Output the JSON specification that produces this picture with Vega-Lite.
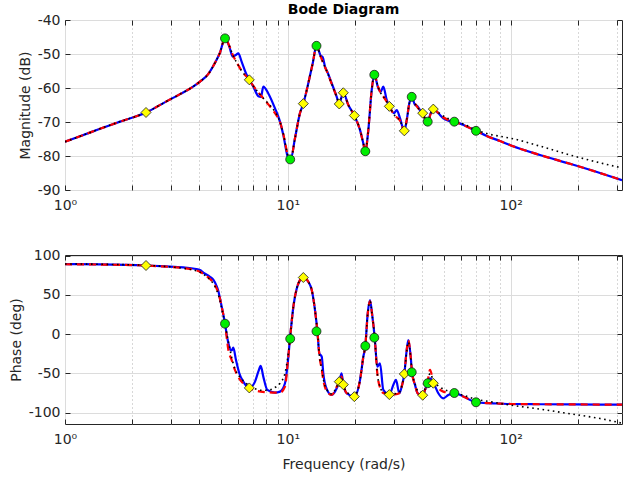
{
  "$schema": "https://vega.github.io/schema/vega-lite/v6.json",
  "padding": {"left": 8, "top": 2, "right": 5, "bottom": 5},
  "background": "white",
  "config": {
    "font": "DejaVu Sans",
    "view": {"stroke": "#262626", "strokeWidth": 1},
    "axis": {
      "domain": false, "grid": true, "gridColor": "#dcdcdc", "gridWidth": 1,
      "ticks": true, "tickColor": "#262626", "tickSize": -5, "labelOverlap": false,
      "labelFont": "DejaVu Sans", "labelFontSize": 14, "labelColor": "#262626",
      "titleFont": "DejaVu Sans", "titleFontSize": 14, "titleFontWeight": "normal", "titleColor": "#262626",
      "titlePadding": 5
    },
    "axisX": {"labelPadding": 13, "labelFlush": false, "titlePadding": 11},
    "axisY": {"labelPadding": 10, "labelExpr": "replace(datum.label, '−', '-')"}
  },
  "datasets": {
    "magB": [
      {"f":1,"v":-75.8},{"f":1.168,"v":-74.2},{"f":1.436,"v":-72.0},{"f":1.765,"v":-69.9},{"f":2.31,"v":-67.2},{"f":2.84,"v":-64.0},{"f":3.283,"v":-61.8},{"f":3.715,"v":-59.8},{"f":4.036,"v":-58.1},{"f":4.383,"v":-56.0},{"f":4.713,"v":-52.6},{"f":4.962,"v":-49.6},{"f":5.226,"v":-45.4},{"f":5.463,"v":-47.8},{"f":5.657,"v":-50.8},{"f":5.836,"v":-50.3},{"f":5.995,"v":-49.8},{"f":6.21,"v":-52.3},{"f":6.493,"v":-55.7},{"f":6.718,"v":-57.6},{"f":7.002,"v":-59.6},{"f":7.373,"v":-62.4},{"f":7.581,"v":-62.6},{"f":7.762,"v":-59.6},{"f":8.175,"v":-61.6},{"f":8.761,"v":-66.0},{"f":9.226,"v":-69.9},{"f":9.546,"v":-73.8},{"f":10.05,"v":-80.7},{"f":10.28,"v":-81.2},{"f":10.77,"v":-74.8},{"f":11.34,"v":-67.4},{"f":11.74,"v":-64.6},{"f":12.36,"v":-58.6},{"f":12.94,"v":-52.7},{"f":13.45,"v":-47.6},{"f":14.05,"v":-50.5},{"f":14.34,"v":-50.9},{"f":14.69,"v":-53.7},{"f":15.04,"v":-55.2},{"f":15.74,"v":-58.6},{"f":16.58,"v":-62.6},{"f":17.02,"v":-64.7},{"f":17.38,"v":-62.9},{"f":17.75,"v":-61.4},{"f":18.69,"v":-65.0},{"f":19.89,"v":-68.1},{"f":21.1,"v":-72.4},{"f":21.83,"v":-76.3},{"f":22.28,"v":-78.7},{"f":22.98,"v":-72.4},{"f":23.8,"v":-60.6},{"f":24.45,"v":-56.2},{"f":25.48,"v":-60.1},{"f":26.12,"v":-61.1},{"f":26.83,"v":-59.6},{"f":27.79,"v":-63.5},{"f":28.55,"v":-65.4},{"f":29.97,"v":-67.4},{"f":30.82,"v":-66.5},{"f":31.89,"v":-68.9},{"f":33.34,"v":-72.6},{"f":34.18,"v":-69.4},{"f":35.11,"v":-64.5},{"f":35.99,"v":-62.6},{"f":37.24,"v":-65.0},{"f":38.13,"v":-65.3},{"f":39.21,"v":-66.5},{"f":40.32,"v":-67.4},{"f":41.29,"v":-69.2},{"f":42.46,"v":-69.9},{"f":43.79,"v":-67.4},{"f":44.98,"v":-66.2},{"f":47.37,"v":-67.4},{"f":49.88,"v":-68.9},{"f":52.53,"v":-69.6},{"f":55.89,"v":-69.9},{"f":62.42,"v":-71.1},{"f":69.94,"v":-72.6},{"f":78.11,"v":-74.1},{"f":89.62,"v":-75.6},{"f":100.4,"v":-76.9},{"f":135.5,"v":-79.7},{"f":184.8,"v":-82.3},{"f":251.9,"v":-85.0},{"f":316.2,"v":-87.1}
    ],
    "magR": [
      {"f":1,"v":-75.8},{"f":1.168,"v":-74.2},{"f":1.436,"v":-72.0},{"f":1.765,"v":-69.9},{"f":2.31,"v":-67.2},{"f":2.84,"v":-64.0},{"f":3.283,"v":-61.8},{"f":3.715,"v":-59.8},{"f":4.036,"v":-58.1},{"f":4.383,"v":-56.0},{"f":4.713,"v":-52.6},{"f":4.962,"v":-49.6},{"f":5.226,"v":-45.4},{"f":5.463,"v":-47.6},{"f":5.657,"v":-50.2},{"f":5.995,"v":-53.3},{"f":6.21,"v":-55.0},{"f":6.493,"v":-56.5},{"f":6.718,"v":-57.6},{"f":7.002,"v":-59.4},{"f":7.373,"v":-61.3},{"f":7.762,"v":-63.0},{"f":8.175,"v":-64.8},{"f":8.761,"v":-67.4},{"f":9.226,"v":-70.0},{"f":9.546,"v":-73.5},{"f":10.05,"v":-80.2},{"f":10.28,"v":-81.2},{"f":10.77,"v":-74.8},{"f":11.34,"v":-67.4},{"f":11.74,"v":-64.6},{"f":12.36,"v":-58.6},{"f":12.94,"v":-52.7},{"f":13.45,"v":-47.6},{"f":14.05,"v":-50.8},{"f":14.69,"v":-53.9},{"f":15.04,"v":-55.4},{"f":15.74,"v":-58.8},{"f":16.58,"v":-62.6},{"f":17.02,"v":-64.7},{"f":17.38,"v":-62.9},{"f":17.75,"v":-61.4},{"f":18.69,"v":-65.0},{"f":19.89,"v":-68.1},{"f":21.1,"v":-72.4},{"f":21.83,"v":-76.3},{"f":22.28,"v":-78.7},{"f":22.98,"v":-72.4},{"f":23.8,"v":-60.6},{"f":24.45,"v":-56.2},{"f":25.48,"v":-59.8},{"f":26.12,"v":-61.5},{"f":26.83,"v":-62.5},{"f":27.79,"v":-64.0},{"f":28.55,"v":-65.4},{"f":29.97,"v":-67.8},{"f":30.82,"v":-68.6},{"f":31.89,"v":-69.6},{"f":33.34,"v":-72.6},{"f":34.18,"v":-69.4},{"f":35.11,"v":-64.5},{"f":35.99,"v":-62.6},{"f":37.24,"v":-64.6},{"f":38.13,"v":-65.6},{"f":39.21,"v":-66.6},{"f":40.32,"v":-67.4},{"f":41.29,"v":-69.0},{"f":42.46,"v":-69.9},{"f":43.79,"v":-67.6},{"f":44.98,"v":-66.2},{"f":47.37,"v":-67.3},{"f":49.88,"v":-68.6},{"f":52.53,"v":-69.4},{"f":55.89,"v":-69.9},{"f":62.42,"v":-71.1},{"f":69.94,"v":-72.6},{"f":78.11,"v":-74.1},{"f":89.62,"v":-75.6},{"f":100.4,"v":-76.9},{"f":135.5,"v":-79.7},{"f":184.8,"v":-82.3},{"f":251.9,"v":-85.0},{"f":316.2,"v":-87.1}
    ],
    "magK": [
      {"f":1,"v":-75.8},{"f":1.168,"v":-74.2},{"f":1.436,"v":-72.0},{"f":1.765,"v":-69.9},{"f":2.31,"v":-67.2},{"f":2.84,"v":-64.0},{"f":3.283,"v":-61.8},{"f":3.715,"v":-59.8},{"f":4.036,"v":-58.1},{"f":4.383,"v":-56.0},{"f":4.713,"v":-52.6},{"f":4.962,"v":-49.6},{"f":5.226,"v":-45.4},{"f":5.463,"v":-47.6},{"f":5.657,"v":-50.2},{"f":5.995,"v":-53.3},{"f":6.21,"v":-55.0},{"f":6.493,"v":-56.5},{"f":6.718,"v":-57.6},{"f":7.002,"v":-59.4},{"f":7.373,"v":-61.3},{"f":7.762,"v":-63.0},{"f":8.175,"v":-64.6},{"f":8.761,"v":-67.0},{"f":9.226,"v":-70.0},{"f":9.546,"v":-73.5},{"f":10.05,"v":-80.2},{"f":10.28,"v":-81.2},{"f":10.77,"v":-74.8},{"f":11.34,"v":-67.4},{"f":11.74,"v":-64.6},{"f":12.36,"v":-58.6},{"f":12.94,"v":-52.7},{"f":13.45,"v":-47.6},{"f":14.05,"v":-50.8},{"f":14.69,"v":-53.9},{"f":15.04,"v":-55.4},{"f":15.74,"v":-58.8},{"f":16.58,"v":-62.6},{"f":17.02,"v":-64.7},{"f":17.38,"v":-62.9},{"f":17.75,"v":-61.4},{"f":18.69,"v":-65.0},{"f":19.89,"v":-68.1},{"f":21.1,"v":-72.4},{"f":21.83,"v":-76.3},{"f":22.28,"v":-78.7},{"f":22.98,"v":-72.4},{"f":23.8,"v":-60.6},{"f":24.45,"v":-56.2},{"f":25.48,"v":-59.8},{"f":26.12,"v":-61.5},{"f":26.83,"v":-62.5},{"f":27.79,"v":-64.0},{"f":28.55,"v":-65.4},{"f":29.97,"v":-67.8},{"f":30.82,"v":-68.6},{"f":31.89,"v":-69.6},{"f":33.34,"v":-72.6},{"f":34.18,"v":-69.4},{"f":35.11,"v":-64.5},{"f":35.99,"v":-62.6},{"f":37.24,"v":-64.6},{"f":38.13,"v":-65.6},{"f":39.21,"v":-66.6},{"f":40.32,"v":-67.4},{"f":41.29,"v":-69.0},{"f":42.46,"v":-69.9},{"f":43.79,"v":-67.6},{"f":44.98,"v":-66.4},{"f":47.37,"v":-67.2},{"f":49.88,"v":-68.2},{"f":52.53,"v":-69.0},{"f":55.89,"v":-69.6},{"f":62.42,"v":-70.8},{"f":69.94,"v":-72.3},{"f":78.11,"v":-73.4},{"f":89.62,"v":-74.2},{"f":100.4,"v":-74.8},{"f":135.5,"v":-77.1},{"f":184.8,"v":-79.7},{"f":251.9,"v":-82.0},{"f":316.2,"v":-83.5}
    ],
    "phB": [
      {"f":1,"v":89.4},{"f":1.436,"v":89.0},{"f":2.31,"v":87.6},{"f":2.84,"v":86.5},{"f":3.396,"v":85.2},{"f":3.75,"v":83.8},{"f":4.036,"v":81.8},{"f":4.176,"v":78.5},{"f":4.474,"v":73.2},{"f":4.63,"v":69.5},{"f":4.797,"v":61},{"f":4.877,"v":55},{"f":4.95,"v":47},{"f":5.05,"v":35},{"f":5.226,"v":13.4},{"f":5.353,"v":-5.2},{"f":5.463,"v":-16},{"f":5.53,"v":-20},{"f":5.601,"v":-20.5},{"f":5.693,"v":-17.2},{"f":5.854,"v":-32.9},{"f":6.057,"v":-49.8},{"f":6.313,"v":-60.5},{"f":6.718,"v":-68.5},{"f":7.125,"v":-60.5},{"f":7.373,"v":-47.8},{"f":7.558,"v":-40.5},{"f":7.762,"v":-54.1},{"f":8.091,"v":-71.1},{"f":8.761,"v":-74.5},{"f":9.226,"v":-73.2},{"f":9.714,"v":-62.5},{"f":9.99,"v":-37.1},{"f":10.23,"v":-5.7},{"f":10.59,"v":35},{"f":10.96,"v":58},{"f":11.34,"v":69},{"f":11.74,"v":72.5},{"f":12.36,"v":66.9},{"f":12.81,"v":56.3},{"f":13.24,"v":31},{"f":13.58,"v":3.7},{"f":13.85,"v":-24.3},{"f":14.2,"v":-28.7},{"f":14.43,"v":-49.8},{"f":14.91,"v":-69},{"f":15.74,"v":-77.5},{"f":16.58,"v":-69},{"f":17.02,"v":-60.5},{"f":17.43,"v":-49.8},{"f":17.75,"v":-64.3},{"f":18.38,"v":-75.3},{"f":19.89,"v":-79.6},{"f":21.1,"v":-58.3},{"f":21.83,"v":-28.7},{"f":22.28,"v":-15},{"f":22.84,"v":26.6},{"f":23.38,"v":43.6},{"f":23.97,"v":22.3},{"f":24.55,"v":-4.4},{"f":25.22,"v":-41.4},{"f":25.93,"v":-37.1},{"f":26.83,"v":-71.1},{"f":28.55,"v":-77},{"f":29.75,"v":-64.7},{"f":30.6,"v":-58.3},{"f":31.65,"v":-75.3},{"f":32.5,"v":-66},{"f":33.34,"v":-50.7},{"f":34.18,"v":-20.1},{"f":34.75,"v":-7.4},{"f":35.61,"v":-28.7},{"f":36.1,"v":-48.5},{"f":37.24,"v":-64.7},{"f":38.28,"v":-75.3},{"f":40.32,"v":-77.8},{"f":41.29,"v":-71.1},{"f":42.27,"v":-62.5},{"f":43.48,"v":-56.2},{"f":45.16,"v":-62.5},{"f":47.37,"v":-75.3},{"f":49.88,"v":-81.7},{"f":52.53,"v":-77.5},{"f":55.89,"v":-75},{"f":62.42,"v":-80.5},{"f":69.94,"v":-86.8},{"f":80.85,"v":-88},{"f":89.62,"v":-88.5},{"f":100.4,"v":-89},{"f":135.5,"v":-89.3},{"f":251.9,"v":-89.7},{"f":316.2,"v":-89.8}
    ],
    "phR": [
      {"f":1,"v":89.2},{"f":1.436,"v":88.8},{"f":2.31,"v":87.5},{"f":2.84,"v":86.2},{"f":3.396,"v":84.3},{"f":3.75,"v":82.5},{"f":4.036,"v":79.6},{"f":4.176,"v":77},{"f":4.474,"v":70.5},{"f":4.63,"v":66},{"f":4.797,"v":58},{"f":4.877,"v":53},{"f":4.95,"v":46},{"f":5.05,"v":35},{"f":5.226,"v":13.4},{"f":5.41,"v":-20},{"f":5.6,"v":-33},{"f":5.79,"v":-45.6},{"f":6.11,"v":-58.3},{"f":6.53,"v":-66},{"f":6.718,"v":-68.5},{"f":7.125,"v":-71.5},{"f":7.558,"v":-73.2},{"f":8.091,"v":-74},{"f":8.761,"v":-74.5},{"f":9.226,"v":-74.5},{"f":9.714,"v":-66.9},{"f":9.99,"v":-37},{"f":10.23,"v":-5.7},{"f":10.59,"v":35},{"f":10.96,"v":58},{"f":11.34,"v":69},{"f":11.74,"v":72.5},{"f":12.36,"v":66.9},{"f":12.81,"v":56.3},{"f":13.24,"v":31},{"f":13.58,"v":3.7},{"f":13.85,"v":-26},{"f":14.2,"v":-45},{"f":14.43,"v":-58.3},{"f":14.91,"v":-72},{"f":15.74,"v":-77.5},{"f":16.58,"v":-67},{"f":17.02,"v":-60.5},{"f":17.43,"v":-54.1},{"f":17.75,"v":-64.3},{"f":18.38,"v":-75.3},{"f":19.89,"v":-79.6},{"f":21.1,"v":-58.3},{"f":21.83,"v":-28.7},{"f":22.28,"v":-15},{"f":22.84,"v":26},{"f":23.38,"v":42},{"f":23.97,"v":22},{"f":24.55,"v":-4.4},{"f":25.22,"v":-50},{"f":25.93,"v":-68},{"f":26.83,"v":-75},{"f":28.55,"v":-77},{"f":29.75,"v":-77},{"f":30.6,"v":-76.5},{"f":31.65,"v":-75},{"f":32.5,"v":-66},{"f":33.34,"v":-50.7},{"f":34.18,"v":-20},{"f":34.75,"v":-8},{"f":35.61,"v":-28.7},{"f":36.1,"v":-48.5},{"f":37.24,"v":-64.7},{"f":38.28,"v":-75.3},{"f":40.32,"v":-77.8},{"f":41.29,"v":-71.1},{"f":42.27,"v":-62.5},{"f":43.48,"v":-45.6},{"f":45.16,"v":-62.5},{"f":47.37,"v":-69},{"f":49.88,"v":-73.2},{"f":52.53,"v":-74.5},{"f":55.89,"v":-75},{"f":62.42,"v":-80.5},{"f":69.94,"v":-86.8},{"f":80.85,"v":-88},{"f":89.62,"v":-88.5},{"f":100.4,"v":-89},{"f":135.5,"v":-89.3},{"f":251.9,"v":-89.7},{"f":316.2,"v":-89.8}
    ],
    "phK": [
      {"f":1,"v":89.6},{"f":1.436,"v":89.2},{"f":2.31,"v":87.8},{"f":2.84,"v":86.3},{"f":3.396,"v":84.0},{"f":3.75,"v":82.0},{"f":4.036,"v":79.0},{"f":4.176,"v":76.5},{"f":4.474,"v":69.5},{"f":4.63,"v":64.5},{"f":4.797,"v":56},{"f":4.95,"v":44},{"f":5.05,"v":33},{"f":5.226,"v":13.4},{"f":5.353,"v":-3},{"f":5.463,"v":-15},{"f":5.601,"v":-30},{"f":5.79,"v":-44},{"f":6.11,"v":-55},{"f":6.53,"v":-63},{"f":6.718,"v":-66},{"f":7.125,"v":-69.5},{"f":7.558,"v":-71.5},{"f":8.091,"v":-71.5},{"f":8.761,"v":-68},{"f":9.226,"v":-62.5},{"f":9.714,"v":-49.8},{"f":9.99,"v":-30},{"f":10.23,"v":-5.7},{"f":10.59,"v":35},{"f":10.96,"v":58},{"f":11.34,"v":69},{"f":11.74,"v":72.5},{"f":12.36,"v":66.9},{"f":12.81,"v":56.3},{"f":13.24,"v":31},{"f":13.58,"v":3.7},{"f":13.85,"v":-26},{"f":14.2,"v":-45},{"f":14.43,"v":-57},{"f":14.91,"v":-70},{"f":15.74,"v":-76},{"f":16.58,"v":-67},{"f":17.02,"v":-60.5},{"f":17.43,"v":-56},{"f":17.75,"v":-64.3},{"f":18.38,"v":-74},{"f":19.89,"v":-78},{"f":21.1,"v":-58.3},{"f":21.83,"v":-28.7},{"f":22.28,"v":-15},{"f":22.84,"v":26},{"f":23.38,"v":42},{"f":23.97,"v":22},{"f":24.55,"v":-4.4},{"f":25.22,"v":-50},{"f":25.93,"v":-67},{"f":26.83,"v":-74},{"f":28.55,"v":-76},{"f":29.75,"v":-76},{"f":30.6,"v":-75.5},{"f":31.65,"v":-74},{"f":32.5,"v":-66},{"f":33.34,"v":-50.7},{"f":34.18,"v":-22},{"f":34.75,"v":-10},{"f":35.61,"v":-30},{"f":36.1,"v":-48.5},{"f":37.24,"v":-63},{"f":38.28,"v":-72},{"f":40.32,"v":-74},{"f":41.29,"v":-70},{"f":42.27,"v":-62.5},{"f":43.48,"v":-50},{"f":45.16,"v":-60},{"f":47.37,"v":-66},{"f":49.88,"v":-70},{"f":52.53,"v":-72.5},{"f":55.89,"v":-74.5},{"f":62.42,"v":-78.5},{"f":69.94,"v":-83},{"f":80.85,"v":-86},{"f":89.62,"v":-88.3},{"f":100.4,"v":-90.5},{"f":135.5,"v":-95.5},{"f":184.8,"v":-101.5},{"f":251.9,"v":-107.5},{"f":316.2,"v":-113.5}
    ],
    "mk": [
      {"f":2.31,"mag":-67.2,"ph":87.6,"t":"d"},
      {"f":5.226,"mag":-45.4,"ph":13.4,"t":"o"},
      {"f":6.718,"mag":-57.6,"ph":-68.5,"t":"d"},
      {"f":10.25,"mag":-81.0,"ph":-5.8,"t":"o"},
      {"f":11.74,"mag":-64.6,"ph":72.3,"t":"d"},
      {"f":13.45,"mag":-47.6,"ph":3.7,"t":"o"},
      {"f":17.02,"mag":-64.7,"ph":-60.5,"t":"d"},
      {"f":17.75,"mag":-61.4,"ph":-64.3,"t":"d"},
      {"f":19.89,"mag":-68.1,"ph":-79.6,"t":"d"},
      {"f":22.28,"mag":-78.6,"ph":-15,"t":"o"},
      {"f":24.45,"mag":-56.1,"ph":-4.4,"t":"o"},
      {"f":28.55,"mag":-65.4,"ph":-77,"t":"d"},
      {"f":33.34,"mag":-72.6,"ph":-50.7,"t":"d"},
      {"f":35.99,"mag":-62.6,"ph":-48.5,"t":"o"},
      {"f":40.32,"mag":-67.4,"ph":-77.8,"t":"d"},
      {"f":42.46,"mag":-69.9,"ph":-62.5,"t":"o"},
      {"f":44.98,"mag":-66.2,"ph":-62.5,"t":"d"},
      {"f":55.89,"mag":-69.9,"ph":-75,"t":"o"},
      {"f":69.94,"mag":-72.6,"ph":-86.8,"t":"o"}
    ]
  },
  "bounds": "flush",
  "spacing": 65,
  "vconcat": [
    {
      "width": 557, "height": 170,
      "title": {"text": "Bode Diagram", "font": "DejaVu Sans", "fontSize": 14, "fontWeight": "bold", "color": "#000000", "anchor": "middle", "offset": -4},
      "resolve": {"axis": {"x": "independent", "y": "independent"}},
      "layer": [
        {"data": {"name": "magB"}, "mark": {"type": "line", "color": "#0000ff", "strokeWidth": 2.2, "interpolate": "monotone", "clip": true},
         "encoding": {
           "x": {"field": "f", "type": "quantitative", "title": null,
             "scale": {"type": "log", "domain": [1, 316.2], "nice": false},
             "axis": {"title": null, "values": [1,2,3,4,5,6,7,8,9,10,20,30,40,50,60,70,80,90,100,200,300],
               "labelExpr": "datum.value == 1 ? '10⁰' : datum.value == 10 ? '10¹' : datum.value == 100 ? '10²' : ''",
               "gridDash": {"condition": {"test": "datum.value == 1 || datum.value == 10 || datum.value == 100", "value": []}, "value": [1, 3]},
               "gridColor": {"condition": {"test": "datum.value == 1 || datum.value == 10 || datum.value == 100", "value": "#dcdcdc"}, "value": "#b0b0b0"}}},
           "y": {"field": "v", "type": "quantitative", "title": "Magnitude (dB)",
             "scale": {"domain": [-90, -40], "nice": false, "zero": false},
             "axis": {"title": "Magnitude (dB)", "values": [-90, -80, -70, -60, -50, -40]}}}},
        {"data": {"name": "magR"}, "mark": {"type": "line", "color": "#ff0000", "strokeWidth": 2.2, "strokeDash": [7, 5], "interpolate": "monotone", "clip": true},
         "encoding": {"x": {"field": "f", "type": "quantitative", "axis": null}, "y": {"field": "v", "type": "quantitative", "axis": null}}},
        {"data": {"name": "magK"}, "mark": {"type": "line", "color": "#000000", "strokeWidth": 1.6, "strokeDash": [1.6, 3.6], "interpolate": "monotone", "clip": true},
         "encoding": {"x": {"field": "f", "type": "quantitative", "axis": null}, "y": {"field": "v", "type": "quantitative", "axis": null}}},
        {"data": {"name": "mk"}, "mark": {"type": "point", "filled": true, "stroke": "#1a1a1a", "strokeWidth": 0.8, "opacity": 1, "clip": true},
         "encoding": {
           "x": {"field": "f", "type": "quantitative", "axis": {"orient": "top", "labels": false, "grid": false, "title": null, "values": [1,2,3,4,5,6,7,8,9,10,20,30,40,50,60,70,80,90,100,200,300]}},
           "y": {"field": "mag", "type": "quantitative", "axis": {"orient": "right", "labels": false, "grid": false, "title": null, "values": [-90, -80, -70, -60, -50, -40]}},
           "shape": {"field": "t", "type": "nominal", "scale": {"domain": ["o", "d"], "range": ["circle", "diamond"]}, "legend": null},
           "fill": {"field": "t", "type": "nominal", "scale": {"domain": ["o", "d"], "range": ["#00ee00", "#ffff00"]}, "legend": null},
           "size": {"field": "t", "type": "nominal", "scale": {"domain": ["o", "d"], "range": [80, 100]}, "legend": null}}}
      ]
    },
    {
      "width": 557, "height": 169,
      "resolve": {"axis": {"x": "independent", "y": "independent"}},
      "layer": [
        {"data": {"name": "phB"}, "mark": {"type": "line", "color": "#0000ff", "strokeWidth": 2.2, "interpolate": "monotone", "clip": true},
         "encoding": {
           "x": {"field": "f", "type": "quantitative", "title": "Frequency (rad/s)",
             "scale": {"type": "log", "domain": [1, 316.2], "nice": false},
             "axis": {"title": "Frequency (rad/s)", "values": [1,2,3,4,5,6,7,8,9,10,20,30,40,50,60,70,80,90,100,200,300],
               "labelExpr": "datum.value == 1 ? '10⁰' : datum.value == 10 ? '10¹' : datum.value == 100 ? '10²' : ''",
               "gridDash": {"condition": {"test": "datum.value == 1 || datum.value == 10 || datum.value == 100", "value": []}, "value": [1, 3]},
               "gridColor": {"condition": {"test": "datum.value == 1 || datum.value == 10 || datum.value == 100", "value": "#dcdcdc"}, "value": "#b0b0b0"}}},
           "y": {"field": "v", "type": "quantitative", "title": "Phase (deg)",
             "scale": {"domain": [-114.5, 101], "nice": false, "zero": false},
             "axis": {"title": "Phase (deg)", "values": [-100, -50, 0, 50, 100]}}}},
        {"data": {"name": "phR"}, "mark": {"type": "line", "color": "#ff0000", "strokeWidth": 2.2, "strokeDash": [7, 5], "interpolate": "monotone", "clip": true},
         "encoding": {"x": {"field": "f", "type": "quantitative", "axis": null}, "y": {"field": "v", "type": "quantitative", "axis": null}}},
        {"data": {"name": "phK"}, "mark": {"type": "line", "color": "#000000", "strokeWidth": 1.6, "strokeDash": [1.6, 3.6], "interpolate": "monotone", "clip": true},
         "encoding": {"x": {"field": "f", "type": "quantitative", "axis": null}, "y": {"field": "v", "type": "quantitative", "axis": null}}},
        {"data": {"name": "mk"}, "mark": {"type": "point", "filled": true, "stroke": "#1a1a1a", "strokeWidth": 0.8, "opacity": 1, "clip": true},
         "encoding": {
           "x": {"field": "f", "type": "quantitative", "axis": {"orient": "top", "labels": false, "grid": false, "title": null, "values": [1,2,3,4,5,6,7,8,9,10,20,30,40,50,60,70,80,90,100,200,300]}},
           "y": {"field": "ph", "type": "quantitative", "axis": {"orient": "right", "labels": false, "grid": false, "title": null, "values": [-100, -50, 0, 50, 100]}},
           "shape": {"field": "t", "type": "nominal", "scale": {"domain": ["o", "d"], "range": ["circle", "diamond"]}, "legend": null},
           "fill": {"field": "t", "type": "nominal", "scale": {"domain": ["o", "d"], "range": ["#00ee00", "#ffff00"]}, "legend": null},
           "size": {"field": "t", "type": "nominal", "scale": {"domain": ["o", "d"], "range": [80, 100]}, "legend": null}}}
      ]
    }
  ]
}
